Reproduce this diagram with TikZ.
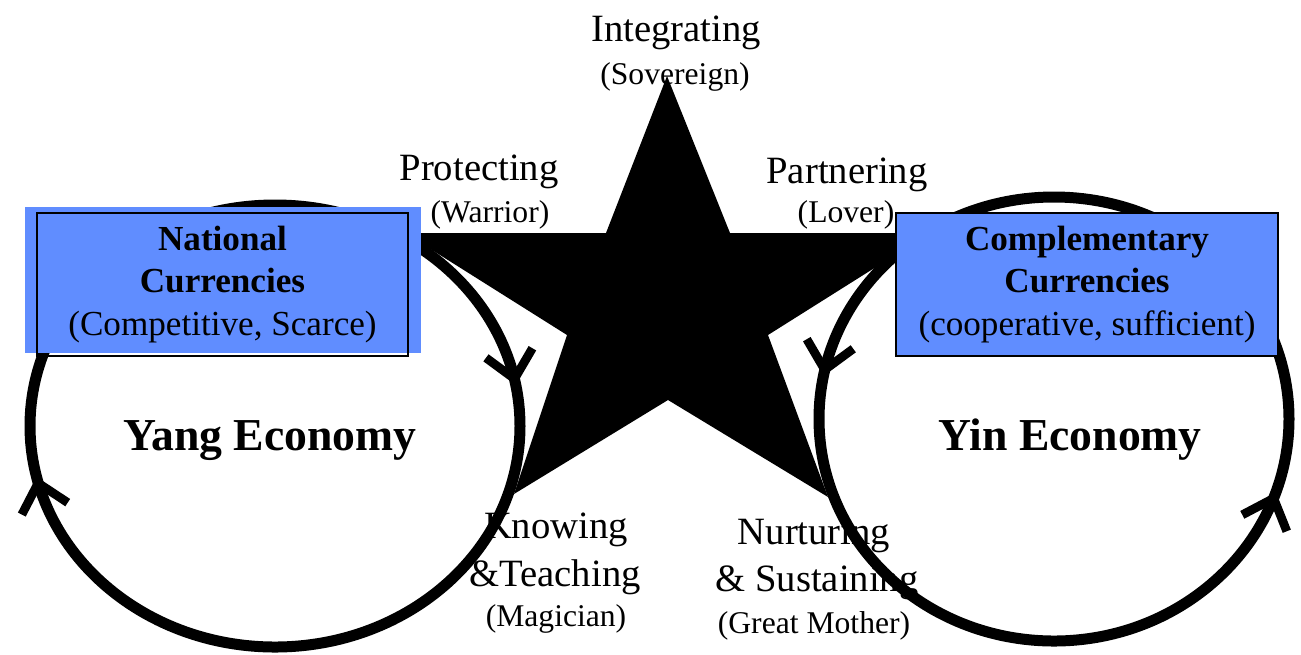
\documentclass[tikz,border=0pt]{standalone}
\usepackage{fontspec}
\setmainfont{Liberation Serif}
\usetikzlibrary{arrows.meta,decorations.markings}
\definecolor{boxblue}{RGB}{96,141,255}
\tikzset{
  ring/.style={line width=0.22cm},
  role/.style={font=\fontsize{22}{26}\selectfont, anchor=base, inner sep=0pt},
  archetype/.style={font=\fontsize{18}{22}\selectfont, anchor=base, inner sep=0pt},
  econ/.style={font=\fontsize{26}{30}\selectfont\bfseries, anchor=base, inner sep=0pt},
  currbox/.style={draw, line width=0.8pt, align=center, font=\fontsize{20}{24}\selectfont, minimum height=2.86cm, inner sep=0pt}
}
\begin{document}
\begin{tikzpicture}[x=0.02cm, y=-0.02cm, >={Straight Barb[length=15pt,width=27pt,line width=5pt]}]
    \useasboundingbox (0,0) rectangle (1301,654);
    \draw[ring, postaction={decorate, decoration={markings,
        mark=at position 0.465 with {\arrow{>}},
        mark=at position 0.972 with {\arrow{>}}}}]
        (275,426) ellipse [x radius=245, y radius=221];
    \draw[ring, postaction={decorate, decoration={markings,
        mark=at position 0.052 with {\arrowreversed{>}},
        mark=at position 0.530 with {\arrowreversed{>}}}}]
        (1054,419) ellipse [x radius=235, y radius=222];
    \fill (667,76) -- (730,233) -- (930,233) -- (768,335) -- (828,497) -- (668,400)
        -- (514,494) -- (567,335) -- (405,233) -- (606,233) -- cycle;
    \fill[boxblue] (25,207) rectangle (421,353);
    \node[currbox, minimum width=7.42cm] (natcur) at (222.5,284.5)
        {\textbf{National}\\\textbf{Currencies}\\(Competitive, Scarce)};
    \node[currbox, fill=boxblue, minimum width=7.64cm] (compcur) at (1087,284.5)
        {\textbf{Complementary}\\\textbf{Currencies}\\(cooperative, sufficient)};
    \node[econ] (yang) at (270,450) {Yang Economy};
    \node[econ] (yin) at (1070,450) {Yin Economy};
    \node[role] (integ) at (676,41) {Integrating};
    \node[archetype] (sovereign) at (675,84) {(Sovereign)};
    \node[role] (protect) at (479,180) {Protecting};
    \node[archetype] (warrior) at (490,222) {(Warrior)};
    \node[role] (partner) at (847,183) {Partnering};
    \node[archetype] (lover) at (846,222) {(Lover)};
    \node[role] (know) at (556,538) {Knowing};
    \node[role] (teach) at (555,586) {\&Teaching};
    \node[archetype] (magician) at (556,626) {(Magician)};
    \node[role] (nurture) at (814,544) {Nurturing};
    \node[role] (sustain) at (817,591) {\& Sustaining};
    \node[archetype] (mother) at (814,633) {(Great Mother)};
\end{tikzpicture}
\end{document}
